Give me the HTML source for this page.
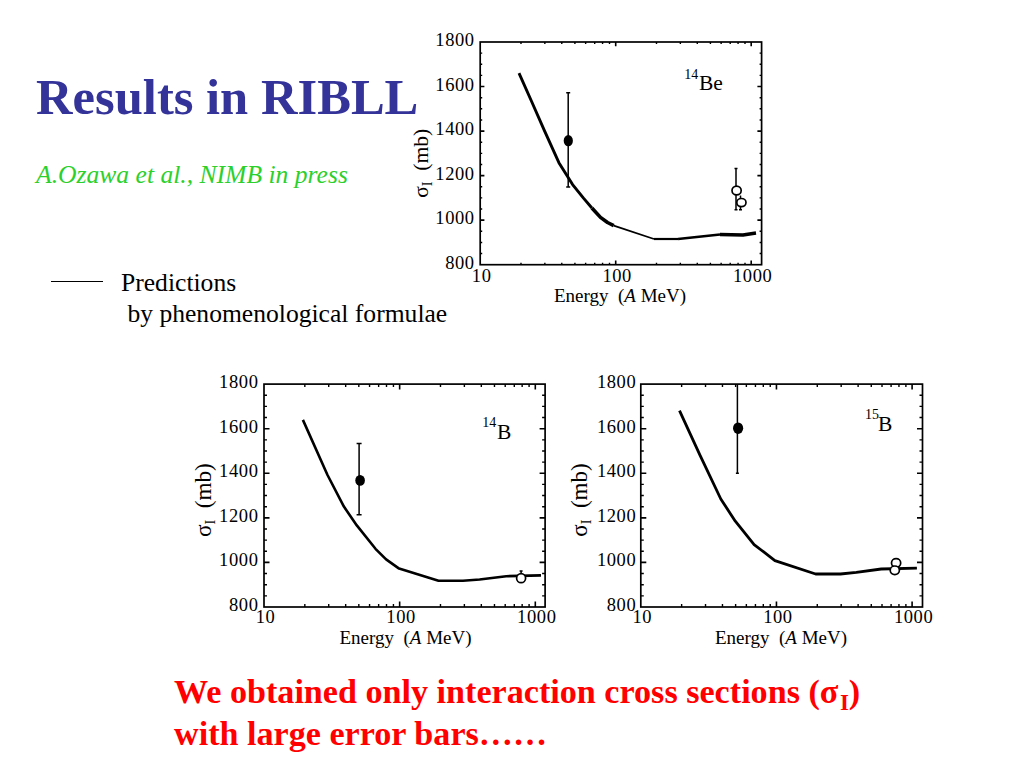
<!DOCTYPE html>
<html><head><meta charset="utf-8"><style>
html,body{margin:0;padding:0;background:#fff;}
body{width:1024px;height:768px;position:relative;overflow:hidden;font-family:"Liberation Serif",serif;}
.t{position:absolute;white-space:nowrap;line-height:1;}
svg{position:absolute;left:0;top:0;}
svg text{font-family:"Liberation Serif",serif;fill:#000;white-space:pre;}
.tl{font-size:18.5px;letter-spacing:0.6px;}
.nl{font-size:21.5px;}
.sup{font-size:14px;}
.yl{font-size:23px;}
.sub{font-size:14px;}
.xl{font-size:19px;}
</style></head><body>
<div class="t" style="left:36px;top:71.9px;font-size:50.6px;font-weight:bold;color:#333399;">Results in RIBLL</div>
<div class="t" style="left:36px;top:161.5px;font-size:25.6px;font-style:italic;color:#2CD02C;">A.Ozawa et al., NIMB in press</div>
<div style="position:absolute;left:51px;top:281px;width:51.5px;height:1px;background:#000;"></div>
<div class="t" style="left:121px;top:270px;font-size:25.6px;color:#000;">Predictions</div>
<div class="t" style="left:121px;top:300.5px;font-size:25.6px;color:#000;">&nbsp;by phenomenological formulae</div>
<div class="t" style="left:174px;top:675px;font-size:34.13px;font-weight:bold;color:#FF0000;">We obtained only interaction cross sections (<span style="letter-spacing:1.5px">σ</span><sub style="font-size:23px;vertical-align:-7px;line-height:0">I</sub>)</div>
<div class="t" style="left:174px;top:717px;font-size:34.13px;font-weight:bold;color:#FF0000;">with large error bars……</div>
<svg width="1024" height="768" viewBox="0 0 1024 768">
<rect x="480.20" y="42.00" width="281.40" height="222.70" fill="none" stroke="#000" stroke-width="1.7"/>
<path d="M615.70 264.70v-4.2M615.70 42.00v4.2M751.20 264.70v-4.2M751.20 42.00v4.2M480.20 220.16h4.2M761.60 220.16h-4.2M480.20 175.62h4.2M761.60 175.62h-4.2M480.20 131.08h4.2M761.60 131.08h-4.2M480.20 86.54h4.2M761.60 86.54h-4.2" stroke="#000" stroke-width="1.6" fill="none"/>
<path d="M520.99 264.70v-2M520.99 42.00v2M544.85 264.70v-2M544.85 42.00v2M561.78 264.70v-2M561.78 42.00v2M574.91 264.70v-2M574.91 42.00v2M585.64 264.70v-2M585.64 42.00v2M594.71 264.70v-2M594.71 42.00v2M602.57 264.70v-2M602.57 42.00v2M609.50 264.70v-2M609.50 42.00v2M656.49 264.70v-2M656.49 42.00v2M680.35 264.70v-2M680.35 42.00v2M697.28 264.70v-2M697.28 42.00v2M710.41 264.70v-2M710.41 42.00v2M721.14 264.70v-2M721.14 42.00v2M730.21 264.70v-2M730.21 42.00v2M738.07 264.70v-2M738.07 42.00v2M745.00 264.70v-2M745.00 42.00v2M480.20 253.56h2M761.60 253.56h-2M480.20 242.43h2M761.60 242.43h-2M480.20 231.29h2M761.60 231.29h-2M480.20 209.02h2M761.60 209.02h-2M480.20 197.89h2M761.60 197.89h-2M480.20 186.75h2M761.60 186.75h-2M480.20 164.48h2M761.60 164.48h-2M480.20 153.35h2M761.60 153.35h-2M480.20 142.21h2M761.60 142.21h-2M480.20 119.94h2M761.60 119.94h-2M480.20 108.81h2M761.60 108.81h-2M480.20 97.68h2M761.60 97.68h-2M480.20 75.41h2M761.60 75.41h-2M480.20 64.27h2M761.60 64.27h-2M480.20 53.14h2M761.60 53.14h-2" stroke="#000" stroke-width="1.4" fill="none"/>
<polyline points="519.00,73.10 531.40,101.00 544.20,130.10 558.90,162.70 572.60,184.60 583.30,197.90 591.90,208.00" fill="none" stroke="#000" stroke-width="2.9" stroke-linejoin="round"/>
<polyline points="591.90,208.00 600.50,217.40 607.50,222.50 613.75,225.60" fill="none" stroke="#000" stroke-width="3.6" stroke-linejoin="round"/>
<polyline points="613.75,225.60 654.00,239.00" fill="none" stroke="#000" stroke-width="1.8" stroke-linejoin="round"/>
<polyline points="654.00,239.00 678.00,239.00" fill="none" stroke="#000" stroke-width="2.2" stroke-linejoin="round"/>
<polyline points="678.00,239.00 720.00,234.50" fill="none" stroke="#000" stroke-width="2.6" stroke-linejoin="round"/>
<polyline points="720.00,234.50 743.00,235.00 756.00,233.00" fill="none" stroke="#000" stroke-width="3.3" stroke-linejoin="round"/>
<path d="M568.20 92.70V187.10M566.20 92.70h4M566.20 187.10h4" stroke="#000" stroke-width="1.5" fill="none"/>
<ellipse cx="568.30" cy="140.70" rx="4.6" ry="5.6" fill="#000"/>
<path d="M736.00 168.60V209.80M734.50 168.60h3M734.50 209.80h3" stroke="#000" stroke-width="1.5" fill="none"/>
<path d="M740.50 195.50V209.80M739.00 209.80h3" stroke="#000" stroke-width="1.5" fill="none"/>
<ellipse cx="736.60" cy="190.50" rx="4.6" ry="4.4" fill="#fff" stroke="#000" stroke-width="1.7"/>
<ellipse cx="741.40" cy="202.60" rx="4.6" ry="4.1" fill="#fff" stroke="#000" stroke-width="1.7"/>
<text x="474.70" y="268.70" text-anchor="end" class="tl">800</text>
<text x="474.70" y="224.16" text-anchor="end" class="tl">1000</text>
<text x="474.70" y="179.62" text-anchor="end" class="tl">1200</text>
<text x="474.70" y="135.08" text-anchor="end" class="tl">1400</text>
<text x="474.70" y="90.54" text-anchor="end" class="tl">1600</text>
<text x="474.70" y="46.00" text-anchor="end" class="tl">1800</text>
<text x="481.70" y="282.20" text-anchor="middle" class="tl">10</text>
<text x="617.20" y="282.20" text-anchor="middle" class="tl">100</text>
<text x="752.70" y="282.20" text-anchor="middle" class="tl">1000</text>
<text x="684.20" y="90.30" class="nl"><tspan class="sup" dy="-11">14</tspan><tspan dx="0.7" dy="11">Be</tspan></text>
<text transform="translate(427.70,163.25) rotate(-90)" text-anchor="middle" class="yl" style="font-size:21.6px">σ<tspan class="sub" dy="4">I</tspan><tspan dy="-4">  (mb)</tspan></text>
<text x="620.00" y="301.50" text-anchor="middle" class="xl">Energy  (<tspan font-style="italic">A</tspan> MeV)</text>
<rect x="264.00" y="384.10" width="281.10" height="222.90" fill="none" stroke="#000" stroke-width="1.7"/>
<path d="M399.65 607.00v-5.5M399.65 384.10v5.5M535.30 607.00v-5.5M535.30 384.10v5.5M264.00 562.42h5.5M545.10 562.42h-5.5M264.00 517.84h5.5M545.10 517.84h-5.5M264.00 473.26h5.5M545.10 473.26h-5.5M264.00 428.68h5.5M545.10 428.68h-5.5" stroke="#000" stroke-width="1.6" fill="none"/>
<path d="M304.83 607.00v-3M304.83 384.10v3M328.72 607.00v-3M328.72 384.10v3M345.67 607.00v-3M345.67 384.10v3M358.82 607.00v-3M358.82 384.10v3M369.56 607.00v-3M369.56 384.10v3M378.64 607.00v-3M378.64 384.10v3M386.50 607.00v-3M386.50 384.10v3M393.44 607.00v-3M393.44 384.10v3M440.48 607.00v-3M440.48 384.10v3M464.37 607.00v-3M464.37 384.10v3M481.32 607.00v-3M481.32 384.10v3M494.47 607.00v-3M494.47 384.10v3M505.21 607.00v-3M505.21 384.10v3M514.29 607.00v-3M514.29 384.10v3M522.15 607.00v-3M522.15 384.10v3M529.09 607.00v-3M529.09 384.10v3M264.00 595.86h3M545.10 595.86h-3M264.00 584.71h3M545.10 584.71h-3M264.00 573.57h3M545.10 573.57h-3M264.00 551.27h3M545.10 551.27h-3M264.00 540.13h3M545.10 540.13h-3M264.00 528.99h3M545.10 528.99h-3M264.00 506.69h3M545.10 506.69h-3M264.00 495.55h3M545.10 495.55h-3M264.00 484.40h3M545.10 484.40h-3M264.00 462.12h3M545.10 462.12h-3M264.00 450.97h3M545.10 450.97h-3M264.00 439.83h3M545.10 439.83h-3M264.00 417.54h3M545.10 417.54h-3M264.00 406.39h3M545.10 406.39h-3M264.00 395.25h3M545.10 395.25h-3" stroke="#000" stroke-width="1.4" fill="none"/>
<polyline points="302.90,419.90 327.50,475.00 343.90,506.60 356.80,525.40 375.50,548.80 386.10,559.40 399.10,568.60 438.50,580.70 463.00,580.70 479.60,579.50 506.20,576.20 541.00,575.40" fill="none" stroke="#000" stroke-width="2.6" stroke-linejoin="round"/>
<path d="M359.10 443.40V514.80M356.60 443.40h5M356.60 514.80h5" stroke="#000" stroke-width="1.5" fill="none"/>
<ellipse cx="360.10" cy="480.40" rx="4.8" ry="5.4" fill="#000"/>
<path d="M521.10 571.00V576.00M519.60 571.00h3" stroke="#000" stroke-width="1.5" fill="none"/>
<ellipse cx="521.10" cy="578.20" rx="4.5" ry="4.5" fill="#fff" stroke="#000" stroke-width="1.7"/>
<text x="258.50" y="611.00" text-anchor="end" class="tl">800</text>
<text x="258.50" y="566.42" text-anchor="end" class="tl">1000</text>
<text x="258.50" y="521.84" text-anchor="end" class="tl">1200</text>
<text x="258.50" y="477.26" text-anchor="end" class="tl">1400</text>
<text x="258.50" y="432.68" text-anchor="end" class="tl">1600</text>
<text x="258.50" y="388.10" text-anchor="end" class="tl">1800</text>
<text x="265.50" y="623.00" text-anchor="middle" class="tl">10</text>
<text x="401.15" y="623.00" text-anchor="middle" class="tl">100</text>
<text x="536.80" y="623.00" text-anchor="middle" class="tl">1000</text>
<text x="482.20" y="439.00" class="nl"><tspan class="sup" dy="-12.5">14</tspan><tspan dx="0.9" dy="12.5">B</tspan></text>
<text transform="translate(210.70,500.15) rotate(-90)" text-anchor="middle" class="yl" style="font-size:23.2px">σ<tspan class="sub" dy="4">I</tspan><tspan dy="-4">  (mb)</tspan></text>
<text x="405.50" y="644.00" text-anchor="middle" class="xl">Energy  (<tspan font-style="italic">A</tspan> MeV)</text>
<rect x="640.80" y="384.10" width="281.70" height="222.90" fill="none" stroke="#000" stroke-width="1.7"/>
<path d="M776.45 607.00v-5.5M776.45 384.10v5.5M912.10 607.00v-5.5M912.10 384.10v5.5M640.80 562.42h5.5M922.50 562.42h-5.5M640.80 517.84h5.5M922.50 517.84h-5.5M640.80 473.26h5.5M922.50 473.26h-5.5M640.80 428.68h5.5M922.50 428.68h-5.5" stroke="#000" stroke-width="1.6" fill="none"/>
<path d="M681.63 607.00v-3M681.63 384.10v3M705.52 607.00v-3M705.52 384.10v3M722.47 607.00v-3M722.47 384.10v3M735.62 607.00v-3M735.62 384.10v3M746.36 607.00v-3M746.36 384.10v3M755.44 607.00v-3M755.44 384.10v3M763.30 607.00v-3M763.30 384.10v3M770.24 607.00v-3M770.24 384.10v3M817.28 607.00v-3M817.28 384.10v3M841.17 607.00v-3M841.17 384.10v3M858.12 607.00v-3M858.12 384.10v3M871.27 607.00v-3M871.27 384.10v3M882.01 607.00v-3M882.01 384.10v3M891.09 607.00v-3M891.09 384.10v3M898.95 607.00v-3M898.95 384.10v3M905.89 607.00v-3M905.89 384.10v3M640.80 595.86h3M922.50 595.86h-3M640.80 584.71h3M922.50 584.71h-3M640.80 573.57h3M922.50 573.57h-3M640.80 551.27h3M922.50 551.27h-3M640.80 540.13h3M922.50 540.13h-3M640.80 528.99h3M922.50 528.99h-3M640.80 506.69h3M922.50 506.69h-3M640.80 495.55h3M922.50 495.55h-3M640.80 484.40h3M922.50 484.40h-3M640.80 462.12h3M922.50 462.12h-3M640.80 450.97h3M922.50 450.97h-3M640.80 439.83h3M922.50 439.83h-3M640.80 417.54h3M922.50 417.54h-3M640.80 406.39h3M922.50 406.39h-3M640.80 395.25h3M922.50 395.25h-3" stroke="#000" stroke-width="1.4" fill="none"/>
<polyline points="679.50,410.60 700.20,455.60 720.80,499.00 735.30,521.20 754.10,544.70 763.40,551.70 774.90,560.70 815.60,574.00 840.50,574.00 856.30,572.30 881.20,569.00 916.90,568.20" fill="none" stroke="#000" stroke-width="2.8" stroke-linejoin="round"/>
<path d="M737.40 384.30V473.20M735.90 473.20h3" stroke="#000" stroke-width="1.5" fill="none"/>
<ellipse cx="738.10" cy="428.20" rx="5.1" ry="5.8" fill="#000"/>
<ellipse cx="896.10" cy="563.00" rx="4.6" ry="4.3" fill="#fff" stroke="#000" stroke-width="1.7"/>
<ellipse cx="894.80" cy="570.30" rx="4.6" ry="4.3" fill="#fff" stroke="#000" stroke-width="1.7"/>
<text x="636.30" y="611.00" text-anchor="end" class="tl">800</text>
<text x="636.30" y="566.42" text-anchor="end" class="tl">1000</text>
<text x="636.30" y="521.84" text-anchor="end" class="tl">1200</text>
<text x="636.30" y="477.26" text-anchor="end" class="tl">1400</text>
<text x="636.30" y="432.68" text-anchor="end" class="tl">1600</text>
<text x="636.30" y="388.10" text-anchor="end" class="tl">1800</text>
<text x="642.30" y="623.00" text-anchor="middle" class="tl">10</text>
<text x="777.95" y="623.00" text-anchor="middle" class="tl">100</text>
<text x="913.60" y="623.00" text-anchor="middle" class="tl">1000</text>
<text x="865.10" y="431.30" class="nl"><tspan class="sup" dy="-12.2">15</tspan><tspan dx="-1.2" dy="12.2">B</tspan></text>
<text transform="translate(587.00,500.00) rotate(-90)" text-anchor="middle" class="yl" style="font-size:23px">σ<tspan class="sub" dy="4">I</tspan><tspan dy="-4">  (mb)</tspan></text>
<text x="781.00" y="644.00" text-anchor="middle" class="xl">Energy  (<tspan font-style="italic">A</tspan> MeV)</text>
</svg>
</body></html>
